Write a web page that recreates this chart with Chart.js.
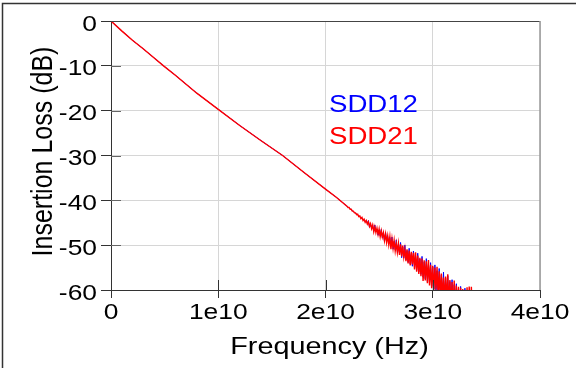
<!DOCTYPE html>
<html>
<head>
<meta charset="utf-8">
<title>Insertion Loss</title>
<script src="https://cdn.jsdelivr.net/npm/chart.js@4.4.0/dist/chart.umd.min.js"></script>
<style>
    html, body { margin: 0; padding: 0; background: #fff; }
    #box { width: 576px; height: 368px; }
</style>
</head>
<body>
<div id="box"><canvas id="ilChart" width="576" height="368"></canvas></div>
<script>
// 频率点 (GHz)，22GHz 以后是噪声段
const freqGHz = [
    0, 1, 2, 3, 4, 4.9, 6, 8, 10, 12, 14, 16, 18, 20, 21,
    22.0, 22.1, 22.2, 22.3, 22.4, 22.5, 22.6, 22.7, 22.8, 22.9,
    23.0, 23.1, 23.2, 23.3, 23.4, 23.5, 23.6, 23.7, 23.8, 23.9,
    24.0, 24.1, 24.2, 24.3, 24.4, 24.5, 24.6, 24.7, 24.8, 24.9,
    25.0, 25.1, 25.2, 25.3, 25.4, 25.5, 25.6, 25.7, 25.8, 25.9,
    26.0, 26.1, 26.2, 26.3, 26.4, 26.5, 26.6, 26.7, 26.8, 26.9,
    27.0, 27.1, 27.2, 27.3, 27.4, 27.5, 27.6, 27.7, 27.8, 27.9,
    28.0, 28.1, 28.2, 28.3, 28.4, 28.5, 28.6, 28.7, 28.8, 28.9,
    29.0, 29.1, 29.2, 29.3, 29.4, 29.5, 29.6, 29.7, 29.8, 29.9,
    30.0, 30.1, 30.2, 30.3, 30.4, 30.5, 30.6, 30.7, 30.8, 30.9,
    31.0, 31.1, 31.2, 31.3, 31.4, 31.5, 31.6, 31.7, 31.8, 31.9,
    32.0, 32.1, 32.2, 32.3, 32.4, 32.5, 32.6, 32.7, 32.8, 32.9,
    33.0, 33.1, 33.2, 33.3, 33.4, 33.5, 33.6, 33.7, 33.8, 33.9,
    34.0
];

// SDD12 (dB)
const sdd12 = [
    0, -2.2, -4.3, -6.2, -8.2, -10.0, -12.1, -16.1, -19.7, -23.3, -26.7, -30.0, -33.8, -37.5, -39.3,
    -41.3, -41.5, -41.7, -41.9, -42.1, -42.3, -42.5, -42.7, -42.9, -43.1,
    -43.2, -43.5, -43.6, -43.9, -43.9, -44.3, -44.3, -44.8, -44.6, -45.1,
    -44.5, -46.0, -45.3, -46.2, -45.6, -46.9, -45.5, -47.0, -46.4, -47.8,
    -46.6, -47.9, -46.5, -48.3, -47.4, -49.2, -47.2, -49.0, -48.1, -49.6,
    -48.3, -50.1, -48.2, -50.9, -49.1, -51.0, -48.8, -51.4, -49.9, -51.9,
    -49.4, -52.8, -50.4, -52.9, -50.0, -53.3, -51.2, -53.8, -50.7, -54.2,
    -51.8, -54.7, -51.3, -55.1, -52.4, -55.6, -51.8, -56.0, -53.1, -56.5,
    -52.5, -57.1, -53.7, -57.5, -53.0, -58.1, -54.3, -58.6, -53.9, -59.2,
    -54.9, -59.8, -54.4, -60.3, -55.7, -60.9, -55.2, -61.3, -56.6, -61.7,
    -56.0, -62.2, -57.3, -62.6, -56.8, -63.0, -58.1, -63.5, -57.7, -63.9,
    -58.8, -64.3, -58.6, -64.7, -59.5, -65.1, -59.2, -65.5, -60.3, -65.9,
    -59.6, -66.3, -61.0, -66.6, -62.0, -66.8, -63.0, -67.0, -66.0, -67.0,
    -67.5
];

// SDD21 (dB)
const sdd21 = [
    0, -2.2, -4.3, -6.2, -8.2, -10.0, -12.1, -16.1, -19.7, -23.3, -26.7, -30.0, -33.8, -37.5, -39.3,
    -41.3, -41.6, -41.6, -42.0, -42.0, -42.4, -42.4, -42.8, -42.8, -43.2,
    -43.1, -43.6, -43.5, -44.1, -43.8, -44.5, -44.2, -44.9, -44.5, -45.3,
    -44.8, -45.8, -45.2, -46.3, -45.5, -47.0, -45.9, -47.2, -46.2, -47.6,
    -46.4, -48.1, -46.8, -48.2, -47.2, -49.0, -47.5, -49.4, -47.9, -49.9,
    -48.1, -50.9, -48.6, -50.7, -48.9, -51.3, -49.6, -51.6, -49.6, -52.2,
    -49.8, -52.5, -50.1, -52.6, -50.9, -53.6, -50.9, -54.1, -51.2, -54.5,
    -51.5, -54.3, -51.7, -55.4, -51.6, -55.9, -52.3, -56.4, -52.8, -56.9,
    -53.0, -58.0, -53.4, -57.9, -53.6, -58.5, -53.3, -59.0, -54.4, -59.6,
    -54.6, -60.2, -55.0, -59.9, -54.8, -61.2, -55.8, -61.6, -56.3, -62.0,
    -57.2, -62.5, -57.0, -62.9, -56.5, -63.4, -57.8, -63.8, -58.2, -64.2,
    -57.9, -64.6, -59.0, -65.0, -59.3, -65.4, -59.5, -65.8, -59.8, -66.2,
    -60.2, -66.5, -59.4, -66.8, -59.2, -67.0, -59.3, -67.2, -66.0, -67.0,
    -67.5
];

const seriesNames = ['SDD12', 'SDD21'];
const seriesColors = ['#0000ff', '#ff0000'];

const xTickValues = [0, 1e10, 2e10, 3e10, 4e10];
const xTickLabels = ['0', '1e10', '2e10', '3e10', '4e10'];
const yTickValues = [-60, -50, -40, -30, -20, -10, 0];
const yTickLabels = ['-60', '-50', '-40', '-30', '-20', '-10', '0'];

const xTitle = 'Frequency (Hz)';
const yTitle = 'Insertion Loss (dB)';

// 字体横向拉宽的比例
const TEXT_SX = 1.2;
const FONT = '"Liberation Sans", Arial, sans-serif';

function toPoints(values) {
    return freqGHz.map(function(f, i) {
        return { x: f * 1e9, y: values[i] };
    });
}

function wideText(ctx, text, x, y, align, rotate) {
    ctx.save();
    ctx.translate(x, y);
    ctx.scale(TEXT_SX, 1);
    if (rotate) ctx.rotate(-Math.PI / 2);
    ctx.textAlign = align;
    ctx.textBaseline = 'alphabetic';
    ctx.fillText(text, 0, 0);
    ctx.restore();
}

// 外框、绘图区边框、内侧刻度、坐标文字和曲线名称
const framePlugin = {
    id: 'frame',
    beforeDraw(chart) {
        const ctx = chart.ctx;
        ctx.save();
        ctx.strokeStyle = '#333';
        ctx.lineWidth = 1.5;
        ctx.strokeRect(2.5, 3.5, 700, 500);
        ctx.restore();
    },
    afterDraw(chart) {
        const ctx = chart.ctx;
        const a = chart.chartArea;
        const xs = chart.scales.x;
        const ys = chart.scales.y;
        ctx.save();
        // 上边、右边
        ctx.lineWidth = 1;
        ctx.strokeStyle = '#444';
        ctx.beginPath();
        ctx.moveTo(a.left, a.top + 0.5);
        ctx.lineTo(a.right, a.top + 0.5);
        ctx.stroke();
        ctx.lineWidth = 1.5;
        ctx.strokeStyle = '#999';
        ctx.beginPath();
        ctx.moveTo(a.right, a.top);
        ctx.lineTo(a.right, a.bottom);
        ctx.stroke();

        // 内侧刻度
        ctx.lineWidth = 1;
        ctx.strokeStyle = '#666';
        yTickValues.forEach(function(v) {
            if (v === -60 || v === 0) return;
            const y = Math.round(ys.getPixelForValue(v)) + 0.5;
            ctx.beginPath();
            ctx.moveTo(a.left, y);
            ctx.lineTo(a.left + 10, y);
            ctx.stroke();
        });
        ctx.strokeStyle = '#333';
        xTickValues.forEach(function(v) {
            if (v === 0 || v === 4e10) return;
            const x = Math.round(xs.getPixelForValue(v)) + 0.5;
            ctx.beginPath();
            ctx.moveTo(x, a.bottom - 10);
            ctx.lineTo(x, a.bottom);
            ctx.stroke();
        });

        // 刻度文字
        ctx.fillStyle = '#000';
        ctx.font = '22px ' + FONT;
        yTickValues.forEach(function(v, i) {
            wideText(ctx, yTickLabels[i], a.left - 14, ys.getPixelForValue(v) + 9.5, 'right');
        });
        xTickValues.forEach(function(v, i) {
            wideText(ctx, xTickLabels[i], xs.getPixelForValue(v), a.bottom + 29, 'center');
        });

        // 坐标轴标题
        ctx.font = '24px ' + FONT;
        wideText(ctx, xTitle, (a.left + a.right) / 2 + 4, a.bottom + 64, 'center');
        ctx.font = '25px ' + FONT;
        wideText(ctx, yTitle, 52, (a.top + a.bottom) / 2 - 4, 'center', true);

        // 曲线名称
        ctx.font = '23px ' + FONT;
        seriesNames.forEach(function(name, i) {
            ctx.fillStyle = seriesColors[i];
            wideText(ctx, name, a.left + 218, a.top + 91 + i * 32, 'left');
        });
        ctx.restore();
    }
};

const ctx = document.getElementById('ilChart').getContext('2d');
const ilChart = new Chart(ctx, {
    type: 'line',
    data: {
        datasets: [
            {
                label: seriesNames[0],
                data: toPoints(sdd12),
                borderColor: seriesColors[0],
                borderWidth: 1.0,
                pointRadius: 0,
                tension: 0,
                order: 1
            },
            {
                label: seriesNames[1],
                data: toPoints(sdd21),
                borderColor: seriesColors[1],
                borderWidth: 1.4,
                pointRadius: 0,
                tension: 0,
                order: 0
            }
        ]
    },
    options: {
        responsive: false,
        animation: false,
        layout: {
            padding: { left: 0, top: 21, right: 36, bottom: 0 }
        },
        plugins: {
            legend: { display: false },
            tooltip: { enabled: false }
        },
        scales: {
            x: {
                type: 'linear',
                min: 0,
                max: 4e10,
                afterFit: function(scale) { scale.height = 78; },
                afterBuildTicks: function(axis) {
                    axis.ticks = xTickValues.map(function(v) { return { value: v }; });
                },
                ticks: { display: false },
                grid: {
                    color: '#d6d6d6',
                    tickColor: '#333',
                    tickLength: 8
                },
                border: { color: '#333', width: 1 }
            },
            y: {
                type: 'linear',
                min: -60,
                max: 0,
                afterFit: function(scale) { scale.width = 111; },
                afterBuildTicks: function(axis) {
                    axis.ticks = yTickValues.map(function(v) { return { value: v }; });
                },
                ticks: { display: false },
                grid: {
                    color: '#d6d6d6',
                    tickColor: '#333',
                    tickLength: 10
                },
                border: { color: '#333', width: 1 }
            }
        }
    },
    plugins: [framePlugin]
});
</script>
</body>
</html>
